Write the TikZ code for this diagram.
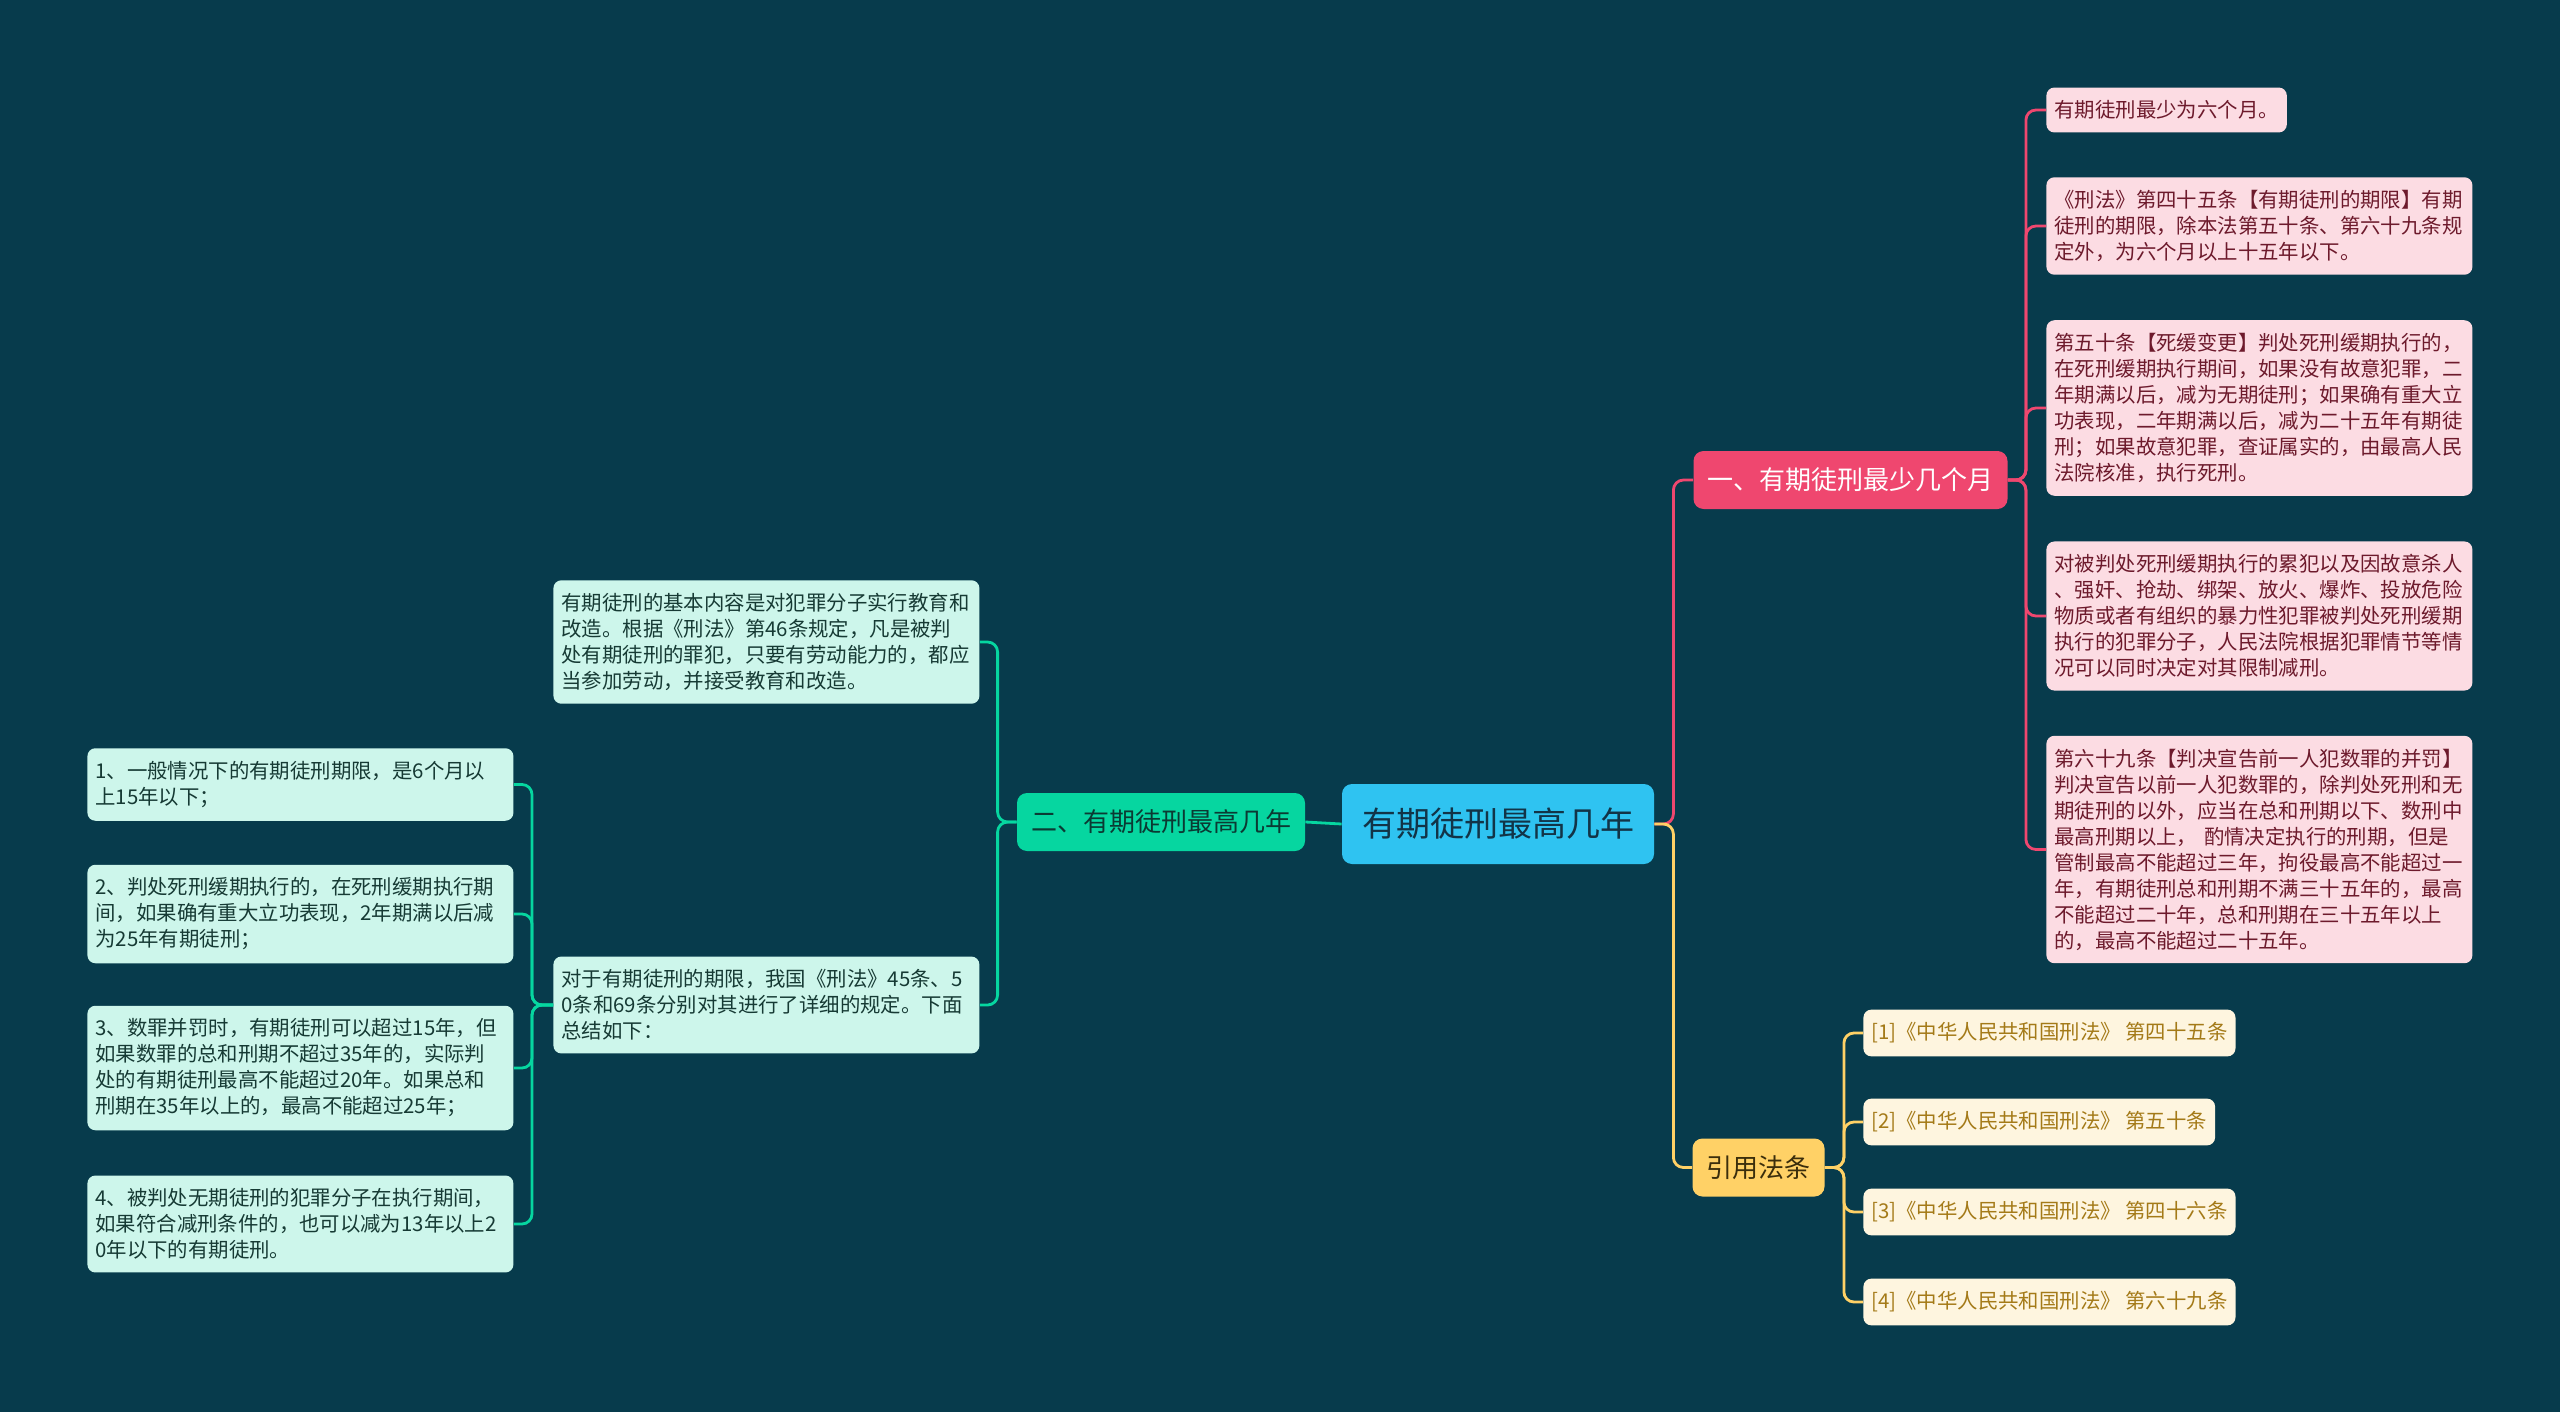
\documentclass[tikz,border=0pt]{standalone}
\usepackage{fontspec}
\setmainfont{Noto Sans CJK SC}
\usepackage{tikz}
\definecolor{bgcol}{HTML}{073B4C}
\definecolor{rootcol}{HTML}{2FC3F1}
\definecolor{rootfg}{HTML}{123447}
\definecolor{pinkcol}{HTML}{EF476F}
\definecolor{greencol}{HTML}{06D6A0}
\definecolor{greenfg}{HTML}{0B3A33}
\definecolor{yellowcol}{HTML}{FFD166}
\definecolor{yellowfg}{HTML}{3B2E0C}
\definecolor{pinkbg}{HTML}{FCDCE3}
\definecolor{pinkfg}{HTML}{6D1A2C}
\definecolor{mintbg}{HTML}{CDF6EB}
\definecolor{mintfg}{HTML}{163A34}
\definecolor{refbg}{HTML}{FEF5DF}
\definecolor{reffg}{HTML}{A47A18}

\begin{document}
\begin{tikzpicture}[x=0.5pt,y=-0.5pt,
  root/.style={fill=rootcol,text=rootfg,rounded corners=5pt,font=\fontsize{17}{20}\selectfont,inner xsep=10pt,minimum height=40pt},
  topic/.style={rounded corners=5pt,font=\fontsize{13}{16}\selectfont,inner xsep=7pt,minimum height=29pt},
  leaf/.style={rounded corners=4pt,font=\fontsize{10.2}{13}\selectfont,inner xsep=4pt,inner ysep=6.5pt,align=left,anchor=west},
  wide/.style={text width=205pt},
  pinkleaf/.style={leaf,fill=pinkbg,text=pinkfg},
  mintleaf/.style={leaf,wide,fill=mintbg,text=mintfg},
  refleaf/.style={leaf,fill=refbg,text=reffg},
  link/.style={line width=1.4pt,rounded corners=5pt}]
\fill[bgcol](0,0)rectangle(2560,1412);

\node[root](root)at(1498,824){有期徒刑最高几年};
\node[topic,fill=pinkcol,text=white](least)at(1850.5,480){一、有期徒刑最少几个月};
\node[topic,fill=greencol,text=greenfg](most)at(1161,822){二、有期徒刑最高几年};
\node[topic,fill=yellowcol,text=yellowfg](laws)at(1758.5,1167.5){引用法条};

\node[pinkleaf](p1)at(2046,110){有期徒刑最少为六个月。};
\node[pinkleaf,wide](p2)at(2046,226){《刑法》第四十五条【有期徒刑的期限】有期\\徒刑的期限，除本法第五十条、第六十九条规\\定外，为六个月以上十五年以下。};
\node[pinkleaf,wide](p3)at(2046,408){第五十条【死缓变更】判处死刑缓期执行的，\\在死刑缓期执行期间，如果没有故意犯罪，二\\年期满以后，减为无期徒刑；如果确有重大立\\功表现，二年期满以后，减为二十五年有期徒\\刑；如果故意犯罪，查证属实的，由最高人民\\法院核准，执行死刑。};
\node[pinkleaf,wide](p4)at(2046,616){对被判处死刑缓期执行的累犯以及因故意杀人\\、强奸、抢劫、绑架、放火、爆炸、投放危险\\物质或者有组织的暴力性犯罪被判处死刑缓期\\执行的犯罪分子，人民法院根据犯罪情节等情\\况可以同时决定对其限制减刑。};
\node[pinkleaf,wide](p5)at(2046,849.5){第六十九条【判决宣告前一人犯数罪的并罚】\\判决宣告以前一人犯数罪的，除判处死刑和无\\期徒刑的以外，应当在总和刑期以下、数刑中\\最高刑期以上， 酌情决定执行的刑期，但是\\管制最高不能超过三年，拘役最高不能超过一\\年，有期徒刑总和刑期不满三十五年的，最高\\不能超过二十年，总和刑期在三十五年以上\\的，最高不能超过二十五年。};

\node[mintleaf](m1)at(553,642){有期徒刑的基本内容是对犯罪分子实行教育和\\改造。根据《刑法》第46条规定，凡是被判\\处有期徒刑的罪犯，只要有劳动能力的，都应\\当参加劳动，并接受教育和改造。};
\node[mintleaf](m2)at(553,1005){对于有期徒刑的期限，我国《刑法》45条、5\\0条和69条分别对其进行了详细的规定。下面\\总结如下：};
\node[mintleaf](l1)at(87,784.5){1、一般情况下的有期徒刑期限，是6个月以\\上15年以下；};
\node[mintleaf](l2)at(87,914){2、判处死刑缓期执行的，在死刑缓期执行期\\间，如果确有重大立功表现，2年期满以后减\\为25年有期徒刑；};
\node[mintleaf](l3)at(87,1068){3、数罪并罚时，有期徒刑可以超过15年，但\\如果数罪的总和刑期不超过35年的，实际判\\处的有期徒刑最高不能超过20年。如果总和\\刑期在35年以上的，最高不能超过25年；};
\node[mintleaf](l4)at(87,1224){4、被判处无期徒刑的犯罪分子在执行期间，\\如果符合减刑条件的，也可以减为13年以上2\\0年以下的有期徒刑。};

\node[refleaf](r1)at(1863,1033){[1]《中华人民共和国刑法》 第四十五条};
\node[refleaf](r2)at(1863,1122){[2]《中华人民共和国刑法》 第五十条};
\node[refleaf](r3)at(1863,1212){[3]《中华人民共和国刑法》 第四十六条};
\node[refleaf](r4)at(1863,1302){[4]《中华人民共和国刑法》 第六十九条};

\draw[link,greencol](root.west)--(most.east);
\draw[link,pinkcol](root.east)--++(19,0)|-(least.west);
\draw[link,yellowcol](root.east)--++(19,0)|-(laws.west);
\foreach \n in {p1,p2,p3,p4,p5}
  \draw[link,pinkcol](least.east)--++(18,0)|-(\n.west);
\foreach \n in {m1,m2}
  \draw[link,greencol](most.west)--++(-19,0)|-(\n.east);
\foreach \n in {l1,l2,l3,l4}
  \draw[link,greencol](m2.west)--++(-21,0)|-(\n.east);
\foreach \n in {r1,r2,r3,r4}
  \draw[link,yellowcol](laws.east)--++(19,0)|-(\n.west);
\end{tikzpicture}
\end{document}
